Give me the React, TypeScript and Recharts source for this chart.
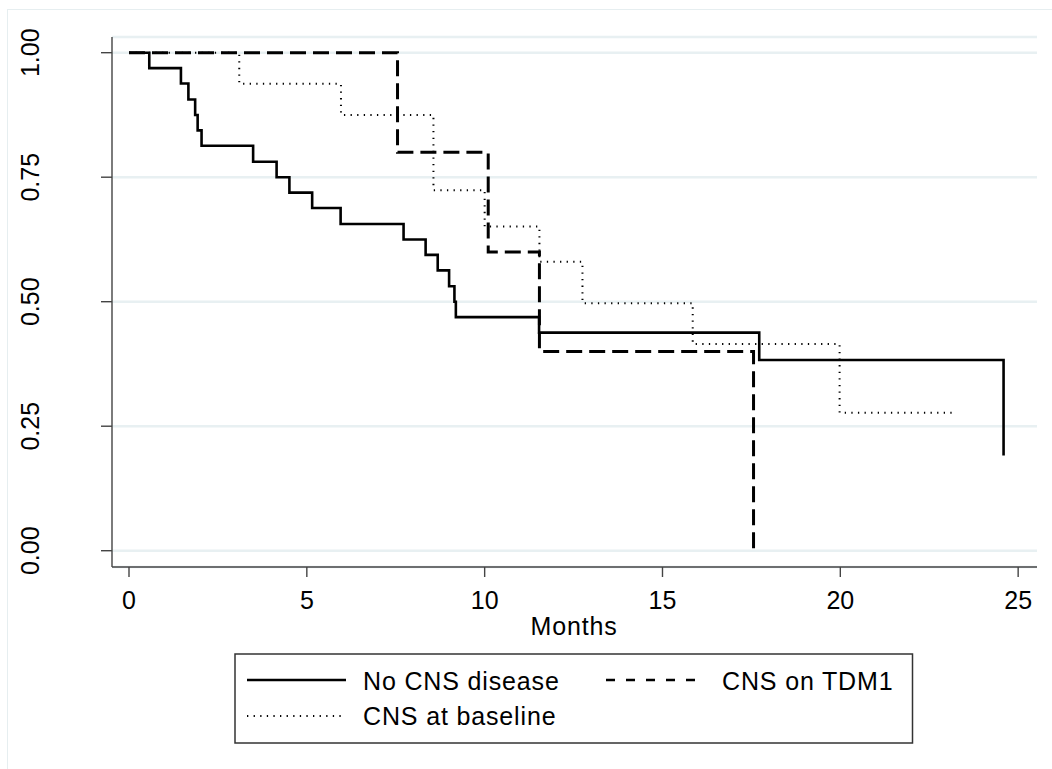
import React from 'react';
import { LineChart, Line, XAxis, YAxis, CartesianGrid } from 'recharts';

// Kaplan-Meier step data (time in months, survival probability)
const noCnsTimes = [0, 0.57, 1.46, 1.67, 1.86, 1.93, 2.04, 3.49, 4.15, 4.51, 5.15, 5.95, 7.72, 8.34, 8.68, 9.0, 9.15, 9.19, 11.53, 17.72, 24.59];
const noCnsSurv = [1, 0.969, 0.938, 0.906, 0.875, 0.844, 0.813, 0.781, 0.75, 0.719, 0.688, 0.656, 0.625, 0.594, 0.563, 0.531, 0.5, 0.469, 0.438, 0.383, 0.191];

const tdm1Times = [0, 7.55, 10.1, 11.54, 17.56];
const tdm1Surv = [1, 0.8, 0.6, 0.4, 0];

const baselineTimes = [0, 3.1, 5.96, 8.56, 10.0, 11.54, 12.75, 15.85, 19.98, 23.23];
const baselineSurv = [1, 0.9375, 0.875, 0.724, 0.651, 0.58, 0.497, 0.415, 0.277, 0.277];

const xTicks = [0, 5, 10, 15, 20, 25];
const yTicks = [0, 0.25, 0.5, 0.75, 1];

const seriesNames = ['No CNS disease', 'CNS on TDM1', 'CNS at baseline'];
const xTitle = 'Months';

const zip = (t: number[], s: number[]) => t.map((v, i) => ({ t: v, s: s[i] }));
const noCnsData = zip(noCnsTimes, noCnsSurv);
const tdm1Data = zip(tdm1Times, tdm1Surv);
const baselineData = zip(baselineTimes, baselineSurv);

const FONT = '"Liberation Sans", Arial, Helvetica, sans-serif';

const XTick = (props: any) => {
  const { x, y, payload } = props;
  return (
    <text x={x} y={y + 20.5} textAnchor="middle" dominantBaseline="central" fontFamily={FONT} fontSize={25} fill="#000">
      {payload.value}
    </text>
  );
};

const YTick = (props: any) => {
  const { x, y, payload } = props;
  const cx = x - 68.5;
  return (
    <text x={cx} y={y} textAnchor="middle" dominantBaseline="central" fontFamily={FONT} fontSize={25} fill="#000" transform={`rotate(-90 ${cx} ${y})`}>
      {Number(payload.value).toFixed(2)}
    </text>
  );
};

export default function App() {
  return (
    <div style={{ position: 'absolute', left: 0, top: 0, width: 1052, height: 769, background: '#fff', overflow: 'hidden', fontFamily: FONT }}>
      <div style={{ position: 'absolute', left: 7, top: 9, width: 1200, height: 900, border: '1.5px solid #e6eef0', boxSizing: 'border-box' }} />
      <div style={{ position: 'absolute', left: 0, top: 0 }}>
        <LineChart width={1052} height={769} margin={{ top: 37, left: 12, right: 15, bottom: 142 }}>
          <CartesianGrid vertical={false} stroke="#e8f0f2" strokeWidth={2.5} />
          <XAxis
            type="number"
            dataKey="t"
            domain={[-0.478, 25.53]}
            ticks={xTicks}
            allowDataOverflow
            height={60}
            tickSize={10}
            tickMargin={2}
            tick={<XTick />}
            axisLine={{ stroke: '#444', strokeWidth: 1.4 }}
            tickLine={{ stroke: '#444', strokeWidth: 1.4 }}
          />
          <YAxis
            type="number"
            domain={[-0.0327, 1.0315]}
            ticks={yTicks}
            allowDataOverflow
            width={100}
            tickSize={11}
            tickMargin={2}
            tick={<YTick />}
            axisLine={{ stroke: '#444', strokeWidth: 1.4 }}
            tickLine={{ stroke: '#444', strokeWidth: 1.4 }}
          />
          <Line data={noCnsData} dataKey="s" type="stepAfter" stroke="#000" strokeWidth={2.6} dot={false} activeDot={false} isAnimationActive={false} name={seriesNames[0]} />
          <Line data={tdm1Data} dataKey="s" type="stepAfter" stroke="#000" strokeWidth={3} strokeDasharray="16 7" dot={false} activeDot={false} isAnimationActive={false} name={seriesNames[1]} />
          <Line data={baselineData} dataKey="s" type="stepAfter" stroke="#000" strokeWidth={2} strokeDasharray="1.3 5.3" dot={false} activeDot={false} isAnimationActive={false} name={seriesNames[2]} />
        </LineChart>
      </div>
      <div style={{ position: 'absolute', left: 474, width: 200, top: 614, textAlign: 'center', fontSize: 25, letterSpacing: 0.85, lineHeight: '25px', color: '#000' }}>
        {xTitle}
      </div>
      <svg style={{ position: 'absolute', left: 0, top: 0 }} width={1052} height={769}>
        <rect x={235} y={654} width={677.5} height={89} fill="#fff" stroke="#333" strokeWidth={1.5} />
        <line x1={247} y1={680} x2={346} y2={680} stroke="#000" strokeWidth={2.6} />
        <text x={363} y={681} dominantBaseline="central" fontFamily={FONT} fontSize={25} letterSpacing={0.85} fill="#000">{seriesNames[0]}</text>
        <line x1={606} y1={680} x2={706} y2={680} stroke="#000" strokeWidth={2.6} strokeDasharray="9 11" />
        <text x={722} y={681} dominantBaseline="central" fontFamily={FONT} fontSize={25} letterSpacing={0.85} fill="#000">{seriesNames[1]}</text>
        <line x1={247} y1={716} x2={346} y2={716} stroke="#000" strokeWidth={2} strokeDasharray="1.3 5.3" />
        <text x={363} y={716} dominantBaseline="central" fontFamily={FONT} fontSize={25} letterSpacing={0.85} fill="#000">{seriesNames[2]}</text>
      </svg>
    </div>
  );
}
